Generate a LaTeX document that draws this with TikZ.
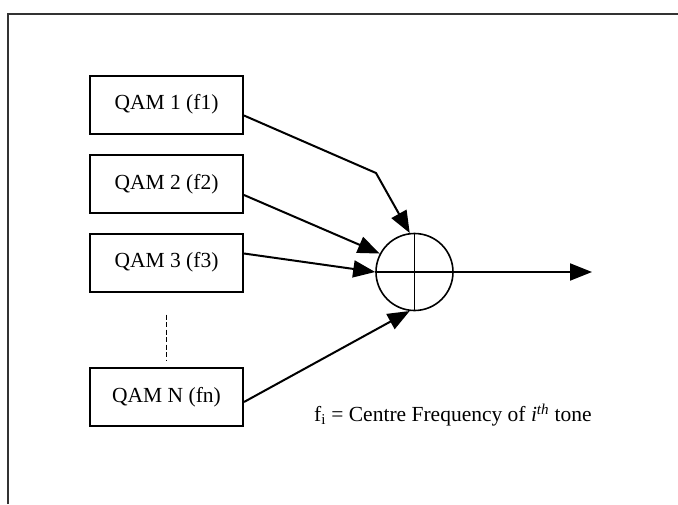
\documentclass[tikz,border=0pt]{standalone}
\usepackage{fontspec}
\setmainfont{Liberation Serif}
\usetikzlibrary{arrows.meta,calc}
\begin{document}
\begin{tikzpicture}[x=1pt,y=-1pt,
  qambox/.style={draw,line width=2pt,rectangle,minimum width=153pt,minimum height=58pt,inner sep=0pt,font=\fontsize{21.5}{25}\selectfont},
  feed/.style={line width=2pt,-{Triangle[length=22pt,width=17pt]}},
  frame/.style={line width=1.6pt,draw=black!80}]
  \useasboundingbox (0,0) rectangle (678,504);
  % outer frame (only top and left edges fall inside the page)
  \coordinate (ftl) at (8,14);
  \coordinate (ftr) at (678,14);
  \coordinate (fbl) at (8,504);
  \draw[frame] (fbl) -- (ftl) -- (ftr);
  % modulator boxes
  \node[qambox] (b1) at (166.5,104.5) {QAM 1 (f1)};
  \node[qambox] (b2) at (166.5,184) {QAM 2 (f2)};
  \node[qambox] (b3) at (166.5,262.5) {QAM 3 (f3)};
  \node[qambox] (bn) at (166.5,397) {QAM N (fn)};
  % summing junction
  \node[draw,circle,line width=1.6pt,minimum size=77pt,inner sep=0pt] (sum) at (414.5,272) {};
  \draw[line width=1.6pt] (sum.north) -- (sum.south);
  \draw[line width=1.6pt] (sum.west) -- (sum.east);
  \coordinate (bend) at (376,173);
  \coordinate (out) at (592,272);
  % inputs
  \draw[feed] ($(b1.east)+(0,11)$) -- (bend) -- (sum.97);
  \draw[feed] ($(b2.east)+(0,11)$) -- (sum.152);
  \draw[feed] ($(b3.east)+(0,-9)$) -- (sum.west);
  \draw[feed] ($(bn.east)+(0,5)$) -- (sum.263);
  % output
  \draw[feed] (sum.east) -- (out);
  % ellipsis between box 3 and box N
  \draw[line width=1.5pt,dash pattern=on 5pt off 2.5pt] ($(b3.south)+(0,22)$) -- ($(bn.north)+(0,-6)$);
  % legend
  \node[anchor=west,font=\fontsize{21.5}{25}\selectfont,inner sep=0pt] (legend) at (314,415)
    {f\textsubscript{i} = Centre Frequency of \textit{i}\textsuperscript{\textit{th}} tone};
\end{tikzpicture}
\end{document}
